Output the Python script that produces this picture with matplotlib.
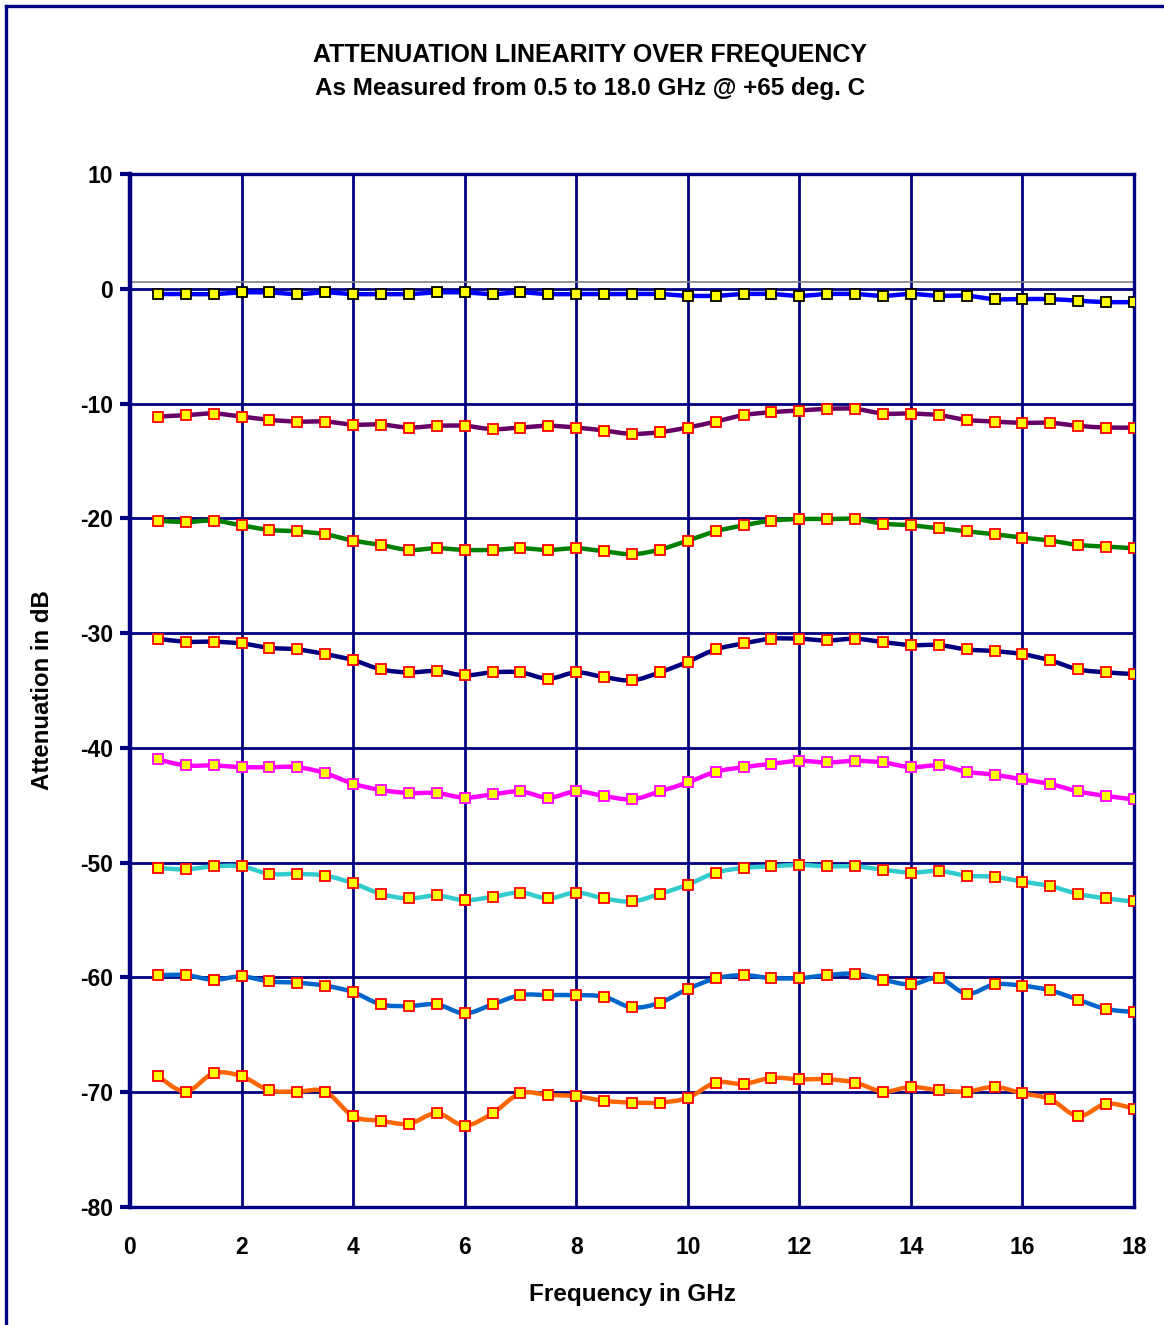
import numpy as np
import matplotlib
matplotlib.use("Agg")
import matplotlib.pyplot as plt
from matplotlib.path import Path
from matplotlib.patches import PathPatch
from matplotlib.lines import Line2D

plt.rcParams['font.family'] = ['Liberation Sans', 'DejaVu Sans']

freq = [0.5, 1.0, 1.5, 2.0, 2.5, 3.0, 3.5, 4.0, 4.5, 5.0, 5.5, 6.0,
        6.5, 7.0, 7.5, 8.0, 8.5, 9.0, 9.5, 10.0, 10.5, 11.0, 11.5, 12.0,
        12.5, 13.0, 13.5, 14.0, 14.5, 15.0, 15.5, 16.0, 16.5, 17.0, 17.5, 18.0]

att_0 = [-0.46, -0.46, -0.46, -0.32, -0.32, -0.46, -0.32, -0.46, -0.46, -0.46, -0.32, -0.32,
         -0.46, -0.32, -0.46, -0.46, -0.46, -0.46, -0.46, -0.61, -0.61, -0.46, -0.46, -0.61,
         -0.46, -0.46, -0.61, -0.46, -0.61, -0.61, -0.90, -0.90, -0.90, -1.04, -1.16, -1.16]
att_10 = [-11.13, -11.01, -10.87, -11.13, -11.42, -11.57, -11.57, -11.83, -11.83, -12.09, -11.94, -11.94,
          -12.23, -12.09, -11.94, -12.09, -12.35, -12.64, -12.49, -12.09, -11.57, -11.01, -10.75, -10.61,
          -10.46, -10.46, -10.87, -10.87, -11.01, -11.42, -11.57, -11.68, -11.68, -11.94, -12.09, -12.09]
att_20 = [-20.20, -20.32, -20.20, -20.61, -21.01, -21.13, -21.39, -21.94, -22.32, -22.75, -22.61, -22.75,
          -22.75, -22.61, -22.75, -22.61, -22.87, -23.13, -22.72, -21.94, -21.13, -20.61, -20.20, -20.06,
          -20.06, -20.06, -20.46, -20.61, -20.87, -21.13, -21.39, -21.68, -21.94, -22.32, -22.46, -22.61]
att_30 = [-30.49, -30.75, -30.75, -30.90, -31.28, -31.42, -31.83, -32.35, -33.16, -33.42, -33.30, -33.68,
          -33.42, -33.42, -33.97, -33.42, -33.83, -34.12, -33.42, -32.49, -31.42, -30.90, -30.49, -30.49,
          -30.64, -30.49, -30.78, -31.04, -31.04, -31.42, -31.57, -31.83, -32.38, -33.16, -33.42, -33.57]
att_40 = [-41.01, -41.53, -41.53, -41.68, -41.68, -41.68, -42.20, -43.12, -43.67, -43.93, -43.93, -44.34,
          -44.05, -43.79, -44.34, -43.79, -44.19, -44.48, -43.79, -43.01, -42.08, -41.68, -41.39, -41.13,
          -41.27, -41.13, -41.27, -41.68, -41.53, -42.08, -42.34, -42.75, -43.15, -43.79, -44.19, -44.48]
att_50 = [-50.46, -50.58, -50.32, -50.32, -50.98, -50.98, -51.13, -51.79, -52.72, -53.12, -52.86, -53.27,
          -52.98, -52.60, -53.12, -52.60, -53.12, -53.38, -52.72, -51.91, -50.87, -50.46, -50.32, -50.20,
          -50.32, -50.32, -50.61, -50.87, -50.72, -51.13, -51.24, -51.65, -52.05, -52.72, -53.12, -53.38]
att_60 = [-59.80, -59.80, -60.20, -59.91, -60.35, -60.46, -60.72, -61.28, -62.35, -62.49, -62.35, -63.13,
          -62.35, -61.54, -61.54, -61.54, -61.68, -62.61, -62.20, -61.01, -60.09, -59.80, -60.06, -60.06,
          -59.80, -59.68, -60.20, -60.61, -60.06, -61.42, -60.61, -60.72, -61.13, -61.94, -62.75, -63.01]
att_70 = [-68.61, -69.94, -68.35, -68.61, -69.83, -69.94, -69.94, -72.09, -72.49, -72.75, -71.83, -72.90,
          -71.83, -70.09, -70.23, -70.35, -70.75, -70.90, -70.90, -70.49, -69.16, -69.28, -68.75, -68.87,
          -68.87, -69.16, -69.94, -69.54, -69.83, -69.94, -69.54, -70.09, -70.61, -72.09, -71.01, -71.42]

series = [att_0, att_10, att_20, att_30, att_40, att_50, att_60, att_70]
line_colors = ['#0000FF', '#660066', '#008000', '#000080', '#FF00FF', '#33CCCC', '#0066CC', '#FF6600']
edge_colors = ['#000000', '#FF0000', '#FF0000', '#FF0000', '#FF00FF', '#FF0000', '#FF0000', '#FF0000']

title_1 = "ATTENUATION LINEARITY OVER FREQUENCY"
title_2 = "As Measured from 0.5 to 18.0 GHz @ +65 deg. C"
x_label = "Frequency in GHz"
y_label = "Attenuation in dB"
x_ticks = [0, 2, 4, 6, 8, 10, 12, 14, 16, 18]
y_ticks = [10, 0, -10, -20, -30, -40, -50, -60, -70, -80]
ref_level = 0.55

NAVY = '#000080'
W, H = 1164, 1325
fig = plt.figure(figsize=(W / 100, H / 100), dpi=100)
ax = fig.add_axes([130 / W, 1 - 1207 / H, (1134 - 130) / W, (1207 - 174) / H])
ax.set_xlim(0, 18)
ax.set_ylim(-80, 10)


def smooth_path(x, y):
    x = np.asarray(x, float)
    y = np.asarray(y, float)
    n = len(x)
    verts = [(x[0], y[0])]
    codes = [Path.MOVETO]
    for i in range(n - 1):
        x0, y0 = (x[i - 1], y[i - 1]) if i > 0 else (x[i], y[i])
        x3, y3 = (x[i + 2], y[i + 2]) if i + 2 < n else (x[i + 1], y[i + 1])
        c1 = (x[i] + (x[i + 1] - x0) / 6, y[i] + (y[i + 1] - y0) / 6)
        c2 = (x[i + 1] - (x3 - x[i]) / 6, y[i + 1] - (y3 - y[i]) / 6)
        verts += [c1, c2, (x[i + 1], y[i + 1])]
        codes += [Path.CURVE4] * 3
    return Path(verts, codes)


# grid
for xv in x_ticks[1:-1]:
    ax.axvline(xv, color=NAVY, lw=2.0, zorder=1)
for yv in y_ticks[1:-1]:
    ax.axhline(yv, color=NAVY, lw=2.0, zorder=1)
ax.axhline(ref_level, color='#808080', lw=1.2, zorder=1)

for vals, lc, ec in zip(series, line_colors, edge_colors):
    patch = PathPatch(smooth_path(freq, vals), facecolor='none', edgecolor=lc,
                      lw=3.2, zorder=3, capstyle='round', joinstyle='round')
    ax.add_patch(patch)
    ax.plot(freq, vals, linestyle='none', marker='s', markersize=6.8,
            markerfacecolor='#FFFF00', markeredgecolor=ec, markeredgewidth=1.3, zorder=4)

for side in ['left', 'top', 'right', 'bottom']:
    ax.spines[side].set_color(NAVY)
ax.spines['left'].set_linewidth(3.2)
ax.spines['top'].set_linewidth(2.4)
ax.spines['right'].set_linewidth(2.4)
ax.spines['bottom'].set_linewidth(2.4)

ax.set_xticks(x_ticks)
ax.set_yticks(y_ticks)
ax.set_xticklabels([str(v) for v in x_ticks], fontsize=16.5, fontweight='bold')
ax.set_yticklabels([str(v) for v in y_ticks], fontsize=16.5, fontweight='bold')
ax.tick_params(axis='y', direction='out', length=7, width=3, color=NAVY, pad=5)
ax.tick_params(axis='x', length=0, pad=21)

ax.set_xlabel(x_label, fontsize=17.5, fontweight='bold', labelpad=17)
ax.set_ylabel(y_label, fontsize=17.3, fontweight='bold', labelpad=19)

fig.text(590 / W, 1 - 55 / H, title_1, ha='center', va='center', fontsize=18, fontweight='bold')
fig.text(590 / W, 1 - 89 / H, title_2, ha='center', va='center', fontsize=17.5, fontweight='bold')

# outer frame (top and left edges)
fig.add_artist(Line2D([6 / W, 1.0], [1 - 6 / H, 1 - 6 / H], transform=fig.transFigure,
                      color=NAVY, lw=2.4))
fig.add_artist(Line2D([6 / W, 6 / W], [0, 1 - 6 / H], transform=fig.transFigure,
                      color=NAVY, lw=2.4))

fig.savefig('out.png', dpi=100)
